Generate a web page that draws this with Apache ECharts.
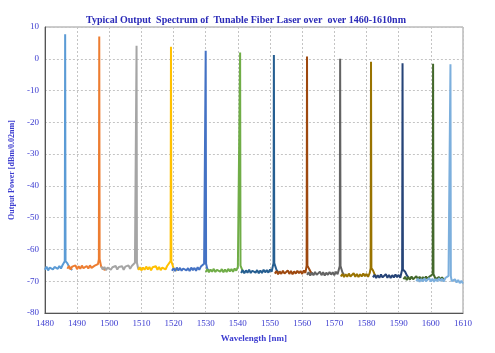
<!DOCTYPE html>
<html>
<head>
<meta charset="utf-8">
<script src="https://cdn.jsdelivr.net/npm/echarts@6/dist/echarts.min.js"></script>
<style>
  html, body { margin: 0; padding: 0; background: #fff; }
  #chart { width: 495px; height: 353px; }
</style>
</head>
<body>
<div id="chart"></div>
<script>
// peak wavelengths (nm) and peak power (dBm) of each tuned line
var peakWl = [1486.3, 1496.9, 1508.5, 1519.2, 1530.0, 1540.7, 1551.2, 1561.5, 1571.8, 1581.4, 1591.2, 1600.7, 1606.1];
var peakDb = [7.7, 7.0, 4.1, 3.8, 2.5, 2.0, 1.2, 0.7, 0.0, -0.9, -1.4, -1.6, -1.7];

// start wavelength of each trace, noise floor sampled every 0.5 nm
var floorStart = [1480, 1487, 1497.5, 1509, 1519.5, 1530, 1541, 1551.5, 1561.5, 1572, 1582, 1591.5, 1595.5];
var floorStep = 0.5;
var floor1 = [-66.4,-65.4,-66.6,-65.7,-65.1,-66.3,-65.5,-65.0,-66.1,-65.2,-66.0,-64.9,-65.8,-64.7,-64.4,-65.5,-66.1,-66.5];
var floor2 = [-66.1,-65.2,-66.3,-65.4,-66.0,-65.0,-66.2,-65.3,-66.1,-65.1,-65.9,-66.3,-65.2,-66.0,-65.0,-65.8,-66.1,-65.1,-65.7,-64.6,-64.1,-65.4,-66.0,-66.4,-66.1];
var floor3 = [-65.4,-66.3,-65.5,-66.5,-65.7,-65.3,-66.4,-65.6,-66.2,-65.2,-66.3,-65.5,-66.1,-65.3,-66.4,-65.4,-66.0,-65.0,-66.1,-65.2,-64.7,-64.2,-65.2,-66.0,-66.5,-66.2];
var floor4 = [-66.5,-65.6,-66.6,-65.7,-66.4,-65.4,-66.3,-65.5,-66.6,-65.6,-66.2,-65.3,-66.4,-65.5,-66.5,-65.7,-65.4,-66.3,-65.2,-65.0,-64.4,-64.7,-65.9,-66.4,-66.7];
var floor5 = [-66.7,-65.9,-66.8,-65.7,-66.6,-65.8,-66.7,-66.0,-65.6,-66.6,-65.9,-66.8,-65.7,-66.5,-65.8,-66.7,-65.6,-66.4,-65.4,-64.9,-64.5,-65.5,-66.2,-66.6];
var floor6 = [-67.1,-66.2,-67.2,-66.3,-67.0,-66.1,-67.1,-66.4,-66.0,-67.0,-66.2,-67.2,-66.3,-67.1,-66.1,-66.9,-66.2,-67.0,-66.0,-66.7,-65.5,-65.0,-66.1,-66.8,-67.3];
var floor7 = [-67.4,-66.5,-67.5,-66.6,-67.3,-66.4,-67.4,-66.7,-66.3,-67.3,-66.5,-67.5,-66.6,-67.4,-66.4,-67.2,-66.5,-67.3,-66.3,-67.0,-65.8,-65.3,-66.4,-67.1,-67.5];
var floor8 = [-67.6,-66.8,-67.8,-66.9,-67.7,-66.7,-67.6,-67.0,-66.6,-67.7,-66.8,-67.8,-66.9,-67.6,-66.7,-67.5,-66.8,-67.7,-66.6,-67.4,-66.1,-65.7,-66.8,-67.6];
var floor9 = [-68.0,-67.2,-68.2,-67.3,-68.1,-67.1,-68.0,-67.4,-67.0,-68.1,-67.2,-68.2,-67.3,-68.0,-67.1,-67.9,-67.2,-68.1,-67.0,-67.8,-66.6,-66.2,-67.2,-68.0];
var floor10 = [-68.5,-67.7,-68.7,-67.8,-68.6,-67.6,-68.5,-67.9,-67.5,-68.6,-67.7,-68.7,-67.8,-68.5,-67.6,-68.4,-67.7,-68.6,-67.4,-66.9,-66.6,-67.8,-68.5];
var floor11 = [-68.8,-68.0,-69.0,-68.1,-68.9,-67.9,-68.8,-68.2,-67.8,-68.9,-68.0,-69.0,-68.1,-68.8,-67.9,-68.7,-68.0,-68.9,-67.7,-67.3,-67.0,-68.1,-68.8];
var floor12 = [-69.4,-68.6,-69.6,-68.7,-69.5,-68.5,-69.4,-68.8,-68.4,-69.5,-68.6,-69.6,-68.7,-69.4,-68.5,-69.3,-68.6,-68.0,-67.7,-68.8,-69.3,-69.6,-68.7,-69.5,-68.8,-69.6];
var floor13 = [-70.0,-69.2,-70.2,-69.3,-70.1,-69.1,-70.0,-69.4,-69.0,-70.1,-69.2,-70.2,-69.3,-70.0,-69.1,-69.9,-69.2,-70.1,-69.0,-68.6,-68.3,-69.4,-70.0,-70.3,-69.4,-70.4,-69.6,-70.6,-69.9,-70.7];
var floors = [floor1, floor2, floor3, floor4, floor5, floor6, floor7, floor8, floor9, floor10, floor11, floor12, floor13];

var colors = ['#5B9BD5', '#ED7D31', '#A5A5A5', '#FFC000', '#4472C4', '#70AD47', '#255E91',
              '#9E480E', '#636363', '#997300', '#264478', '#43682B', '#7CAFDD'];

var xTicks = [1480, 1490, 1500, 1510, 1520, 1530, 1540, 1550, 1560, 1570, 1580, 1590, 1600, 1610];
var yTicks = [-80, -70, -60, -50, -40, -30, -20, -10, 0, 10];

// build each trace: noise floor with the laser line inserted at its peak
function buildTrace(i) {
  var fl = floors[i], pts = [], p = peakWl[i], inserted = false, base = -64;
  for (var k = 0; k < fl.length; k++) {
    var x = floorStart[i] + k * floorStep;
    if (Math.abs(x - p) < 0.3) { base = fl[k]; continue; }
    if (!inserted && x > p) {
      pts.push([p - 0.12, base + 1], [p, peakDb[i]], [p + 0.12, base + 1]);
      inserted = true;
    }
    pts.push([x, fl[k]]);
  }
  if (!inserted) pts.push([p - 0.12, base + 1], [p, peakDb[i]], [p + 0.12, base + 1]);
  return pts;
}

var labelFont = {
  color: '#3c3cd0', fontFamily: 'Liberation Serif', fontSize: 9,
  formatter: function (v) { return String(v); }
};
var series = [];
for (var i = 0; i < peakWl.length; i++) {
  series.push({
    type: 'line',
    data: buildTrace(i),
    showSymbol: false,
    lineStyle: { color: colors[i], width: 2 },
    z: 2 + i
  });
}

var chart = echarts.init(document.getElementById('chart'));
chart.setOption({
  animation: false,
  title: {
    text: 'Typical Output  Spectrum of  Tunable Fiber Laser over  over 1460-1610nm',
    left: 241, top: 10, textAlign: 'center',
    textStyle: { color: '#2a2ab8', fontFamily: 'Liberation Serif', fontSize: 10, fontWeight: 'bold' }
  },
  grid: { left: 42, right: 32, top: 27, bottom: 40, show: true, borderColor: '#999', borderWidth: 1 },
  xAxis: {
    type: 'value', min: xTicks[0], max: xTicks[xTicks.length - 1], interval: 10,
    name: 'Wavelength [nm]', nameLocation: 'middle', nameGap: 21,
    nameTextStyle: { color: '#3c3cd0', fontFamily: 'Liberation Serif', fontSize: 9, fontWeight: 'bold' },
    axisLine: { onZero: false, lineStyle: { color: '#555', width: 1 } },
    axisTick: { show: false },
    axisLabel: Object.assign({ margin: 6 }, labelFont),
    splitLine: { lineStyle: { color: '#c4c4c4', type: [2, 2] } }
  },
  yAxis: {
    type: 'value', min: yTicks[0], max: yTicks[yTicks.length - 1], interval: 10,
    name: 'Output Power [dBm/0.02nm]', nameLocation: 'middle', nameGap: 25,
    nameTextStyle: { color: '#3c3cd0', fontFamily: 'Liberation Serif', fontSize: 8, fontWeight: 'bold' },
    axisLine: { show: true, onZero: false, lineStyle: { color: '#555', width: 1 } },
    axisTick: { show: false },
    axisLabel: Object.assign({ margin: 6 }, labelFont),
    splitLine: { lineStyle: { color: '#c4c4c4', type: [2, 2] } }
  },
  series: series
});
</script>
</body>
</html>
